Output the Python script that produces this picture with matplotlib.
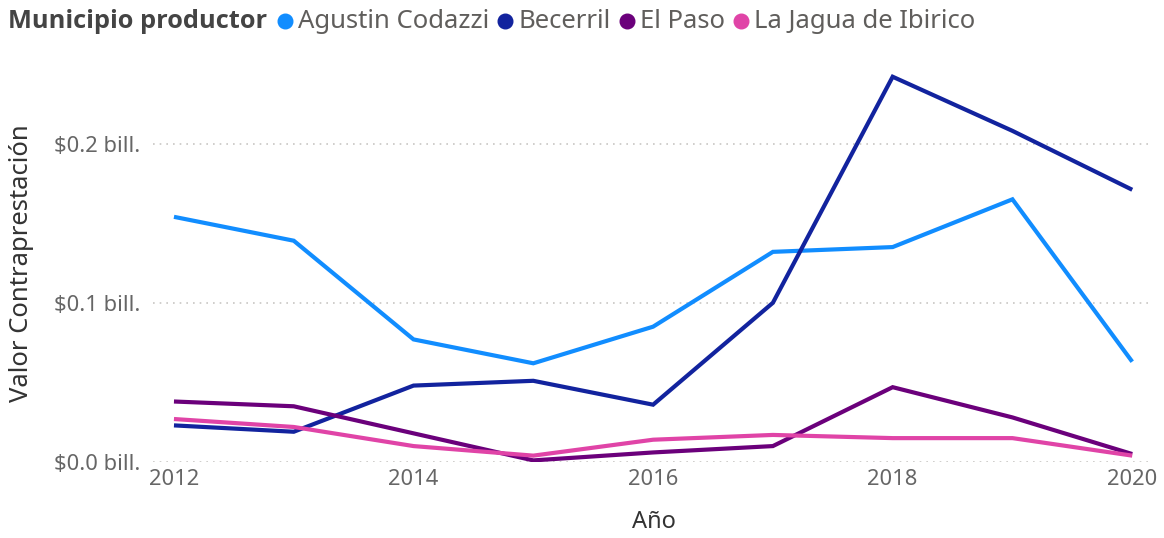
import matplotlib
matplotlib.use("Agg")
import matplotlib.pyplot as plt
from matplotlib.lines import Line2D
from matplotlib.ticker import FuncFormatter, FixedLocator

plt.rcParams['font.family'] = ['Noto Sans', 'DejaVu Sans']

years = [2012, 2013, 2014, 2015, 2016, 2017, 2018, 2019, 2020]
series_names = ["Agustin Codazzi", "Becerril", "El Paso", "La Jagua de Ibirico"]
codazzi = [0.154, 0.139, 0.077, 0.062, 0.085, 0.132, 0.135, 0.165, 0.063]
becerril = [0.023, 0.019, 0.048, 0.051, 0.036, 0.100, 0.242, 0.208, 0.171]
el_paso = [0.038, 0.035, 0.018, 0.001, 0.006, 0.010, 0.047, 0.028, 0.005]
la_jagua = [0.027, 0.022, 0.010, 0.004, 0.014, 0.017, 0.015, 0.015, 0.004]
colors = ["#118DFF", "#12239E", "#6B007B", "#E044A7"]

W, H = 1164, 538
fig = plt.figure(figsize=(W/100, H/100), dpi=100)
ax = fig.add_axes([153/W, 1-462/H, (1152-153)/W, (462-64)/H])

for vals, c in zip([codazzi, becerril, el_paso, la_jagua], colors):
    ax.plot(years, vals, color=c, lw=3.0, solid_joinstyle='miter', solid_capstyle='butt')

ax.set_xlim(2011.825, 2020.165)
ax.set_ylim(0, 0.25)
ax.xaxis.set_major_locator(FixedLocator([2012, 2014, 2016, 2018, 2020]))
ax.yaxis.set_major_locator(FixedLocator([0.0, 0.1, 0.2]))
ax.yaxis.set_major_formatter(FuncFormatter(lambda v, p: f"${v:.1f} bill."))
for s in ax.spines.values():
    s.set_visible(False)
ax.tick_params(length=0, labelsize=15.8, colors="#666666")
ax.tick_params(axis='y', pad=9)
ax.tick_params(axis='x', pad=5)
ax.grid(axis='y', color="#C8C6C4", linestyle=(0, (1, 3)), lw=1.2)
ax.set_axisbelow(True)
ax.set_xlabel("Año", fontsize=17, color="#333333")
ax.set_ylabel("Valor Contraprestación", fontsize=18.5, color="#333333")
ax.xaxis.set_label_coords((654-153)/(1152-153), -(522-462)/(462-64))
ax.yaxis.set_label_coords(-(153-22)/(1152-153), (462-263)/(462-64))
ax.xaxis.label.set_va('center')
ax.yaxis.label.set_va('center')

# legend (Power BI style, inline title)
ly = 1 - 21/H
fig.text(8/W, ly, "Municipio productor", fontsize=18.3, fontweight='bold',
         family=['Open Sans', 'DejaVu Sans'], color="#444444", va='center', ha='left')
fig.canvas.draw()
renderer = fig.canvas.get_renderer()
x = 272
for name, c in zip(series_names, colors):
    cx = x + 13
    fig.add_artist(Line2D([cx/W], [ly], marker='o', ls='', color=c,
                          markersize=10.5, transform=fig.transFigure))
    t = fig.text((cx + 13)/W, ly, name, fontsize=18.5, color="#605E5C",
                 va='center', ha='left')
    bb = t.get_window_extent(renderer)
    x = bb.x1 + 3

fig.savefig("out.png", dpi=100)
